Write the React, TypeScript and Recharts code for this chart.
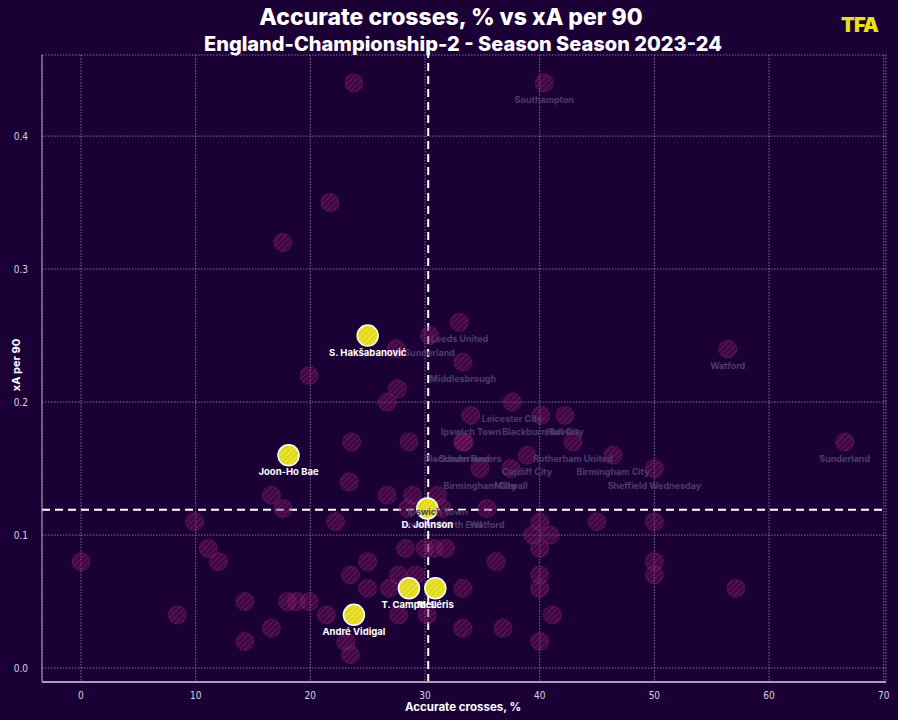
import React from "react";
import {
  ScatterChart,
  Scatter,
  XAxis,
  YAxis,
  CartesianGrid,
  ReferenceLine,
} from "recharts";

// ---- data ----
const bgX = [
  0.0, 8.4, 9.9, 11.1, 12.0, 14.3, 14.3, 16.6, 16.6, 17.6, 17.6, 18.0, 18.8, 19.9, 19.9,
  21.4, 21.7, 22.2, 23.1, 23.4, 23.5, 23.5, 23.6, 23.8, 25.0, 25.0, 26.7, 26.7, 26.9, 27.5,
  27.6, 27.7, 27.7, 28.3, 28.5, 28.6, 28.9, 29.2, 30.0, 30.2, 30.4, 30.8, 31.1, 31.5, 31.8,
  33.0, 33.3, 33.3, 33.4, 33.3, 33.3, 34.0, 34.8, 35.4, 36.2, 36.8, 37.5, 37.6, 38.9, 39.4,
  40.0, 40.0, 40.0, 40.0, 40.0, 40.1, 40.4, 40.9, 41.1, 42.2, 42.9, 45.0, 46.4, 50.0, 50.0,
  50.0, 50.0, 56.4, 57.1, 66.6,
];
const bgY = [
  0.08, 0.04, 0.11, 0.09, 0.08, 0.05, 0.02, 0.13, 0.03, 0.32, 0.12, 0.05, 0.05, 0.05, 0.22,
  0.04, 0.35, 0.11, 0.02, 0.14, 0.07, 0.01, 0.17, 0.44, 0.08, 0.06, 0.2, 0.13, 0.06, 0.24,
  0.21, 0.07, 0.04, 0.09, 0.12, 0.17, 0.13, 0.07, 0.09, 0.04, 0.25, 0.09, 0.13, 0.12, 0.09,
  0.26, 0.23, 0.17, 0.17, 0.06, 0.03, 0.19, 0.15, 0.12, 0.08, 0.03, 0.15, 0.2, 0.16, 0.1,
  0.11, 0.09, 0.07, 0.06, 0.02, 0.19, 0.44, 0.1, 0.04, 0.19, 0.17, 0.11, 0.16, 0.15, 0.11,
  0.08, 0.07, 0.24, 0.06, 0.17,
];
const bgLabels = [
  "", "", "", "", "", "", "", "", "", "", "", "", "", "", "",
  "", "", "", "", "", "", "", "", "", "", "", "", "", "", "",
  "", "", "", "", "", "", "", "", "", "", "Sunderland", "", "Ipswich Town", "Preston North End", "",
  "Leeds United", "Middlesbrough", "Blackburn Rovers", "Sunderland", "", "", "Ipswich Town", "Birmingham City", "Watford", "", "", "Millwall", "Leicester City", "Cardiff City", "",
  "", "", "", "", "", "Blackburn Rovers", "Southampton", "", "", "Hull City", "Rotherham United", "", "Birmingham City", "Sheffield Wednesday", "",
  "", "", "Watford", "", "Sunderland",
];

const hlNames = ["S. Hakšabanović", "Joon-Ho Bae", "D. Johnson", "T. Campbell", "M. Léris", "André Vidigal"];
const hlX = [25.0, 18.1, 30.2, 28.6, 30.9, 23.8];
const hlY = [0.25, 0.16, 0.12, 0.06, 0.06, 0.04];

const meanX = 30.28;
const meanY = 0.119;

const xTicks = [0, 10, 20, 30, 40, 50, 60, 70];
const yTicks = [0, 0.1, 0.2, 0.3, 0.4];

const bgData = bgX.map((x, i) => ({ x, y: bgY[i], label: bgLabels[i] }));
const hlData = hlX.map((x, i) => ({ x, y: hlY[i], label: hlNames[i] }));

const BG = "#1b0036";
const LABEL_FONT = "Inter, 'Open Sans', sans-serif";
const TICK_FONT = "'DejaVu Sans Condensed', 'Liberation Sans Narrow', 'DejaVu Sans', sans-serif";

const BgDot = (props: any) => {
  const { cx, cy } = props;
  if (cx == null || cy == null) return null;
  return <circle cx={cx} cy={cy} r={9} fill="url(#hatchBg)" stroke="rgba(150,35,120,0.35)" strokeWidth={1} />;
};

const BgText = (props: any) => {
  const { cx, cy, payload } = props;
  if (cx == null || cy == null || !payload.label) return null;
  return (
    <text x={cx} y={cy + 20} textAnchor="middle" fill="#4d3d68" fontSize={9} fontWeight={700} fontFamily={LABEL_FONT}>
      {payload.label}
    </text>
  );
};

const HlDot = (props: any) => {
  const { cx, cy } = props;
  if (cx == null || cy == null) return null;
  return <circle cx={cx} cy={cy} r={10.5} fill="url(#hatchHl)" stroke="#ffffff" strokeWidth={1.5} />;
};

const HlText = (props: any) => {
  const { cx, cy, payload } = props;
  if (cx == null || cy == null) return null;
  return (
    <text x={cx} y={cy + 20} textAnchor="middle" fill="#ffffff" fontSize={9.5} fontWeight={700} fontFamily={LABEL_FONT}>
      {payload.label}
    </text>
  );
};

export default function App() {
  return (
    <div
      style={{
        position: "fixed",
        left: 0,
        top: 0,
        width: 898,
        height: 720,
        background: BG,
        overflow: "hidden",
      }}
    >
      <div
        style={{
          position: "absolute",
          left: 0,
          width: 898,
          top: 2,
          textAlign: "center",
          color: "#fff",
          fontFamily: LABEL_FONT,
          fontWeight: 800,
          fontSize: 23,
          paddingLeft: 4,
          boxSizing: "border-box",
          lineHeight: "30px",
        }}
      >
        Accurate crosses, % vs xA per 90
      </div>
      <div
        style={{
          position: "absolute",
          left: 0,
          width: 898,
          top: 30,
          textAlign: "center",
          color: "#fff",
          fontFamily: LABEL_FONT,
          fontWeight: 800,
          fontSize: 20,
          paddingLeft: 28,
          boxSizing: "border-box",
          lineHeight: "28px",
        }}
      >
        England-Championship-2 - Season Season 2023-24
      </div>
      <div
        style={{
          position: "absolute",
          left: 841,
          top: 12,
          color: "#e8e01a",
          fontFamily: LABEL_FONT,
          fontWeight: 900,
          fontSize: 20,
          letterSpacing: -0.8,
          lineHeight: "26px",
        }}
      >
        TFA
      </div>
      <div
        style={{
          position: "absolute",
          left: 0,
          width: 926,
          top: 700,
          textAlign: "center",
          color: "#fff",
          fontFamily: LABEL_FONT,
          fontWeight: 700,
          fontSize: 11.5,
        }}
      >
        Accurate crosses, %
      </div>
      <div
        style={{
          position: "absolute",
          left: 16,
          top: 365,
          transform: "translate(-50%, -50%) rotate(-90deg)",
          color: "#fff",
          fontFamily: LABEL_FONT,
          fontWeight: 700,
          fontSize: 11,
          whiteSpace: "nowrap",
        }}
      >
        xA per 90
      </div>
      <div style={{ position: "absolute", left: 0, top: 0 }}>
        <ScatterChart width={898} height={720} margin={{ top: 55, right: 12, bottom: 8, left: 0 }}>
          <defs>
            <pattern id="hatchBg" patternUnits="userSpaceOnUse" width={4} height={4} patternTransform="rotate(45)">
              <rect width={4} height={4} fill="rgba(120,20,95,0.38)" />
              <line x1={0} y1={0} x2={0} y2={4} stroke="rgba(175,55,145,0.38)" strokeWidth={1.5} />
            </pattern>
            <pattern id="hatchHl" patternUnits="userSpaceOnUse" width={4} height={4} patternTransform="rotate(45)">
              <rect width={4} height={4} fill="#e2da14" />
              <line x1={0} y1={0} x2={0} y2={4} stroke="#f3ef8a" strokeWidth={1.2} />
            </pattern>
          </defs>
          <CartesianGrid stroke="#b8acd0" strokeDasharray="1.5 1.5" strokeOpacity={0.8} strokeWidth={0.8} />
          <XAxis
            type="number"
            dataKey="x"
            domain={[-3.4, 70.2]}
            ticks={xTicks}
            allowDataOverflow
            height={30}
            tickLine={false}
            axisLine={{ stroke: "#a9a0b8", strokeWidth: 2 }}
            tick={{ fill: "#d8d2e2", fontSize: 10, fontFamily: TICK_FONT }}
            tickMargin={4}
          />
          <YAxis
            type="number"
            dataKey="y"
            domain={[-0.0105, 0.461]}
            ticks={yTicks}
            allowDataOverflow
            width={42}
            tickLine={false}
            axisLine={{ stroke: "#a9a0b8", strokeWidth: 1 }}
            tick={{ fill: "#d8d2e2", fontSize: 10, fontFamily: TICK_FONT }}
            tickFormatter={(v: number) => v.toFixed(1)}
            tickMargin={8}
          />
          <Scatter data={bgData} dataKey="y" shape={BgDot} isAnimationActive={false} />
          <Scatter data={hlData} dataKey="y" shape={HlDot} isAnimationActive={false} />
          <ReferenceLine x={meanX} stroke="#ffffff" strokeWidth={2} strokeDasharray="8 5" />
          <ReferenceLine y={meanY} stroke="#ffffff" strokeWidth={2} strokeDasharray="8 5" />
          <Scatter data={bgData} dataKey="y" shape={BgText} isAnimationActive={false} />
          <Scatter data={hlData} dataKey="y" shape={HlText} isAnimationActive={false} />
        </ScatterChart>
      </div>
    </div>
  );
}
